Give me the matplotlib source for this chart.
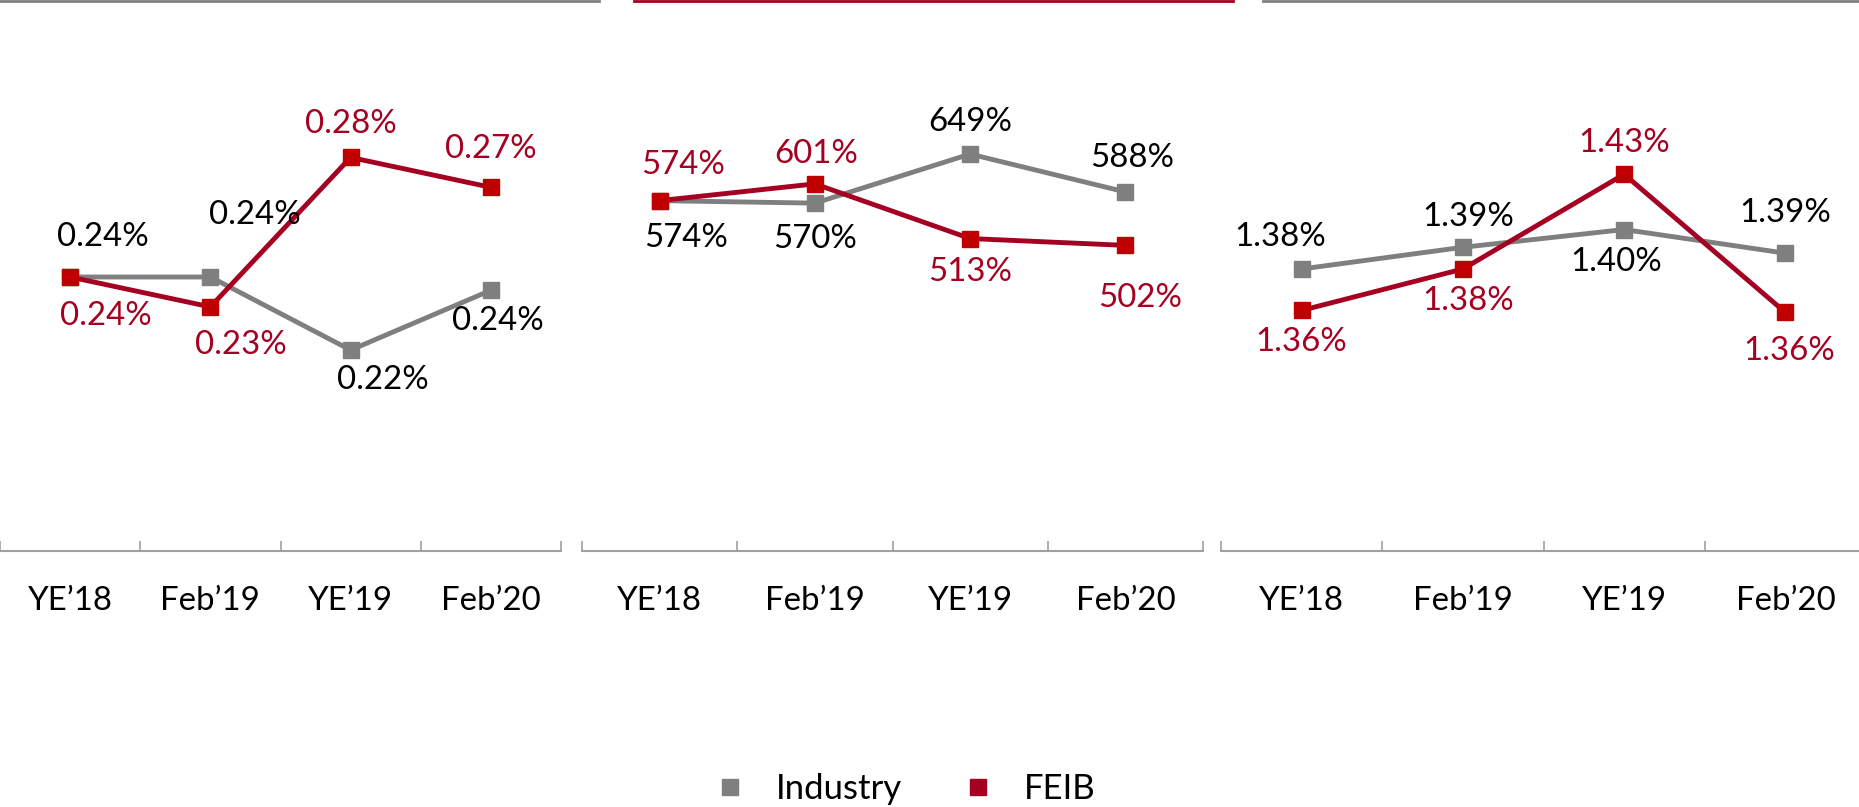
import matplotlib.pyplot as plt
from matplotlib.lines import Line2D

# categories and series values (one panel per metric)
periods = ["YE\u201918", "Feb\u201919", "YE\u201919", "Feb\u201920"]

npl_industry = [0.243, 0.243, 0.221, 0.239]
npl_feib = [0.243, 0.234, 0.279, 0.270]

cov_industry = [574, 570, 649, 588]
cov_feib = [574, 601, 513, 502]

pct_industry = [1.382, 1.393, 1.402, 1.390]
pct_feib = [1.361, 1.382, 1.430, 1.360]

GRAY = "#7F7F7F"
RED_LINE = "#A50021"
RED_MARK = "#C00000"
RED_TEXT = "#A50021"
AXIS = "#A0A0A0"

plt.rcParams['font.family'] = ['Lato', 'DejaVu Sans']
FS = 23.8
FS_LEG = 25

W, H = 1859, 807
fig = plt.figure(figsize=(W / 100, H / 100), dpi=100)


def px_axes(x0, x1, top, bottom):
    return fig.add_axes([x0 / W, 1 - bottom / H, (x1 - x0) / W, (bottom - top) / H])


# label offsets in pixels (dx right, dy down), per series per point
panels = [
    dict(box=(0, 561), ylim=(0.1605, 0.3264), ind=npl_industry, feib=npl_feib,
         fmt=lambda v: f"{v:.2f}%",
         off_ind=[(33, -40), (44, -62), (32, 30), (7, 31)],
         off_feib=[(36, 39), (31, 38), (0, -33), (0, -38)]),
    dict(box=(582, 1203), ylim=(10, 897), ind=cov_industry, feib=cov_feib,
         fmt=lambda v: f"{v:.0f}%",
         off_ind=[(26, 37), (0, 36), (0, -32), (7, -34)],
         off_feib=[(23, -36), (1, -30), (0, 33), (15, 53)]),
    dict(box=(1221, 1866), ylim=(1.2391, 1.5183), ind=pct_industry, feib=pct_feib,
         fmt=lambda v: f"{v:.2f}%",
         off_ind=[(-21, -32), (5, -30), (-8, 32), (0, -40)],
         off_feib=[(0, 32), (5, 32), (0, -31), (4, 39)]),
]

x = list(range(len(periods)))

for p in panels:
    ax = px_axes(p['box'][0], p['box'][1], 0, 551)
    ax.plot(x, p['ind'], color=GRAY, lw=3.5, marker='s', ms=12,
            mfc=GRAY, mec=GRAY, zorder=2)
    ax.plot(x, p['feib'], color=RED_LINE, lw=3.5, marker='s', ms=12,
            mfc=RED_MARK, mec=RED_MARK, zorder=3)
    for i, v in enumerate(p['ind']):
        dx, dy = p['off_ind'][i]
        ax.annotate(p['fmt'](v), (i, v), xytext=(dx, -dy), textcoords='offset pixels',
                    ha='center', va='center', fontsize=FS, color='black', zorder=4)
    for i, v in enumerate(p['feib']):
        dx, dy = p['off_feib'][i]
        ax.annotate(p['fmt'](v), (i, v), xytext=(dx, -dy), textcoords='offset pixels',
                    ha='center', va='center', fontsize=FS, color=RED_TEXT, zorder=4)

    ax.set_xlim(-0.5, len(periods) - 0.5)
    ax.set_ylim(*p['ylim'])
    for s in ['top', 'left', 'right']:
        ax.spines[s].set_visible(False)
    ax.spines['bottom'].set_color(AXIS)
    ax.spines['bottom'].set_linewidth(1.5)
    ax.set_yticks([])
    ax.set_xticks([i - 0.5 for i in range(len(periods) + 1)])
    ax.set_xticklabels([])
    ax.tick_params(axis='x', which='major', direction='in', length=7,
                   width=1.2, color=AXIS)
    ax.set_xticks(x, minor=True)
    ax.set_xticklabels(periods, minor=True, fontsize=FS)
    ax.tick_params(axis='x', which='minor', length=0, pad=25)
    ax.patch.set_visible(False)

# header rules across the top of each panel
y_top = 1 - 1.2 / H
fig.add_artist(Line2D([0, 599 / W], [y_top, y_top], color=GRAY, lw=2))
fig.add_artist(Line2D([634 / W, 1233 / W], [y_top, y_top], color=RED_LINE, lw=2))
fig.add_artist(Line2D([1263 / W, 1], [y_top, y_top], color=GRAY, lw=2))

handles = [
    Line2D([], [], ls='none', marker='s', ms=11, mfc=GRAY, mec=GRAY),
    Line2D([], [], ls='none', marker='s', ms=11, mfc=RED_LINE, mec=RED_LINE),
]
fig.legend(handles, ["Industry", "FEIB"], loc='center', ncol=2,
           bbox_to_anchor=(904 / W, 1 - 789 / H), frameon=False, fontsize=FS_LEG,
           handlelength=1, handletextpad=0.82, columnspacing=1.7)

fig.savefig("out.png", dpi=100)
